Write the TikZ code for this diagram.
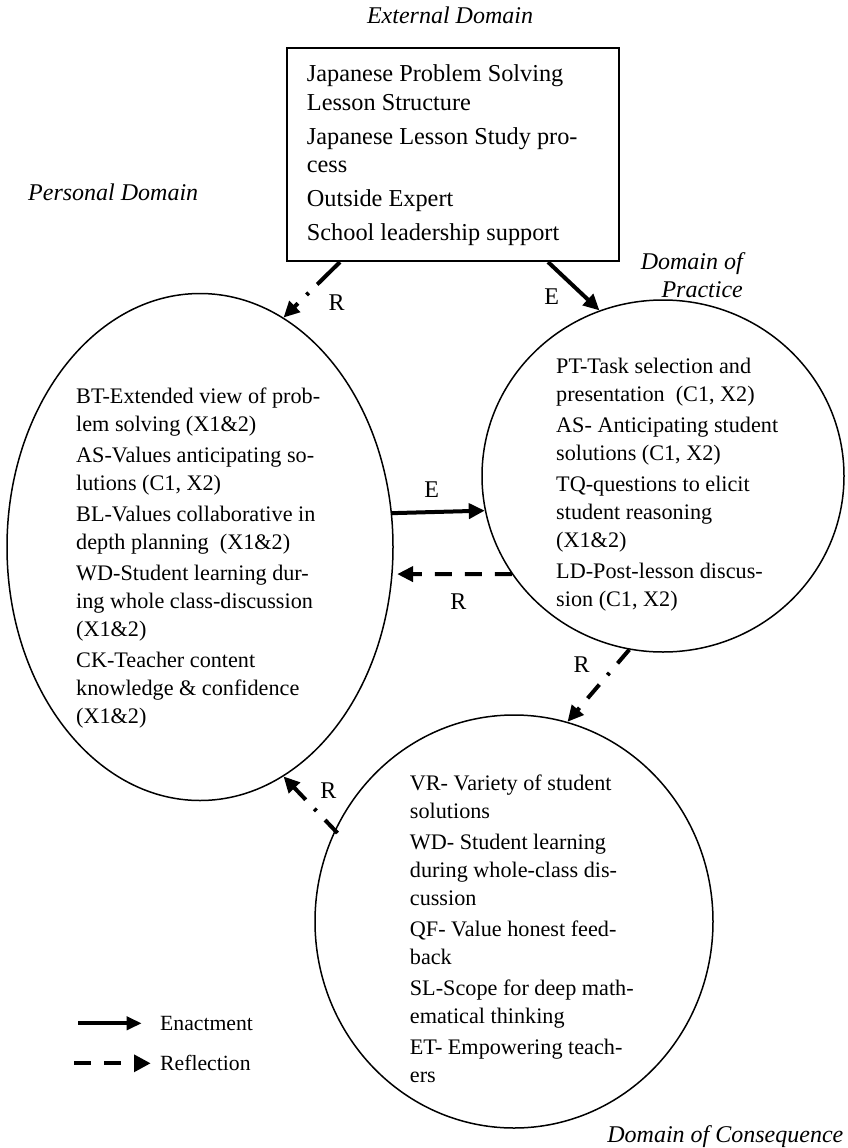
\documentclass[tikz,border=0pt]{standalone}
\usepackage{fontspec}
\setmainfont{Liberation Serif}
\usetikzlibrary{arrows.meta,shapes.geometric,calc}

% item list of a domain, first baseline at the node anchor
\newcommand{\domaintext}[1]{%
  \begin{minipage}[t]{320pt}\fontsize{22.2pt}{28pt}\selectfont\setlength{\parskip}{3pt}#1\end{minipage}}

\tikzset{
  domainshape/.style={draw, line width=1.5pt, ellipse, inner sep=0pt},
  itemtext/.style={anchor=base west, inner sep=0pt},
  arrowlabel/.style={font=\fontsize{24pt}{28pt}\selectfont, inner sep=0pt},
  domainlabel/.style={font=\fontsize{24pt}{28pt}\selectfont\itshape, inner sep=0pt},
  legendtext/.style={font=\fontsize{21.7pt}{26pt}\selectfont, inner sep=0pt, anchor=base west},
  tip/.style={-{Triangle[length=16pt,width=15pt]}},
  enact/.style={line width=4pt, tip},
  reflect/.style={line width=4pt, dash pattern=on 17pt off 13pt, tip},
  reflectdot/.style={line width=4pt, dash pattern=on 18pt off 12.5pt on 3pt off 12.5pt, tip},
}

\begin{document}
\begin{tikzpicture}[x=1pt,y=-1pt]
\useasboundingbox (0,0) rectangle (847,1148);

% external domain box
\node[draw, line width=2pt, minimum width=332.3pt, minimum height=213.3pt,
      inner sep=0pt, anchor=north west] (box) at (285.7,46.7) {};
\node[itemtext] (boxtext) at (306.7,81.7) {%
  \begin{minipage}[t]{300pt}\fontsize{24.3pt}{28.5pt}\selectfont\setlength{\parskip}{5.4pt}%
  Japanese Problem Solving\\Lesson Structure\par
  Japanese Lesson Study pro-\\cess\par
  Outside Expert\par
  School leadership support\end{minipage}};

% the three domains
\node[domainshape, minimum width=386pt, minimum height=507pt] (pers) at (200,547) {};
\node[domainshape, minimum width=362pt, minimum height=352pt] (prac) at (663,476) {};
\node[domainshape, minimum width=398pt, minimum height=413pt] (cons) at (514,921.5) {};

\node[itemtext] (perstext) at (76,403) {\domaintext{%
  BT-Extended view of prob-\\lem solving (X1\&2)\par
  AS-Values anticipating so-\\lutions (C1, X2)\par
  BL-Values collaborative in\\depth planning~ (X1\&2)\par
  WD-Student learning dur-\\ing whole class-discussion\\(X1\&2)\par
  CK-Teacher content\\knowledge \& confidence\\(X1\&2)}};

\node[itemtext] (practext) at (556,373.3) {\domaintext{%
  PT-Task selection and\\presentation~ (C1, X2)\par
  AS- Anticipating student\\solutions (C1, X2)\par
  TQ-questions to elicit\\student reasoning\\(X1\&2)\par
  LD-Post-lesson discus-\\sion (C1, X2)}};

\node[itemtext] (constext) at (409.7,790) {\domaintext{%
  VR- Variety of student\\solutions\par
  WD- Student learning\\during whole-class dis-\\cussion\par
  QF- Value honest feed-\\back\par
  SL-Scope for deep math-\\ematical thinking\par
  ET- Empowering teach-\\ers}};

% domain titles
\node[domainlabel, anchor=base] (extlbl) at (450,24) {External Domain};
\node[domainlabel, anchor=base west] (perslbl) at (28,200) {Personal Domain};
\node[domainlabel, anchor=base east] (praclbl) at (743,297)
  {\begin{tabular}[b]{@{}r@{}}Domain of\\Practice\end{tabular}};
\node[domainlabel, anchor=base east] (conslbl) at (843.5,1142) {Domain of Consequence};

% connectors
\draw[reflectdot, dash pattern=on 32pt off 12pt on 3pt off 12pt]
  ($(box.south west)+(54.3,0)$) -- (pers.70.6);
\draw[enact] ($(box.south west)+(262.3,0)$) -- (prac.111.38);
\draw[enact] (pers.10.67) -- (prac.191.16);
\draw[reflect, shorten >=4.5pt] (prac.213.49) -- (pers.-8.30);
\draw[reflectdot] (prac.259.9) -- (cons.75.38);
\draw[reflectdot, shorten <=-4pt] (cons.153.98) -- (pers.-70.42);

% connector labels
\node[arrowlabel] (r1) at (336.7,303) {R};
\node[arrowlabel] (e1) at (551.7,296.7) {E};
\node[arrowlabel] (e2) at (431.7,490) {E};
\node[arrowlabel] (r2) at (458.3,601.7) {R};
\node[arrowlabel] (r3) at (581.7,665) {R};
\node[arrowlabel] (r4) at (328.3,791) {R};

% legend
\coordinate (enactfrom) at (78.3,1023.3);
\coordinate (enactto) at (141.7,1023.3);
\draw[enact, -{Triangle[length=15pt,width=13pt]}] (enactfrom) -- (enactto);
\node[legendtext] (enactlbl) at (160,1030) {Enactment};
\coordinate (reflfrom) at (74,1063.3);
\coordinate (reflto) at (150.7,1063.3);
\draw[reflect, -{Triangle[length=16.7pt,width=16.7pt]}] (reflfrom) -- (reflto);
\node[legendtext] (refllbl) at (160,1070) {Reflection};
\end{tikzpicture}
\end{document}
